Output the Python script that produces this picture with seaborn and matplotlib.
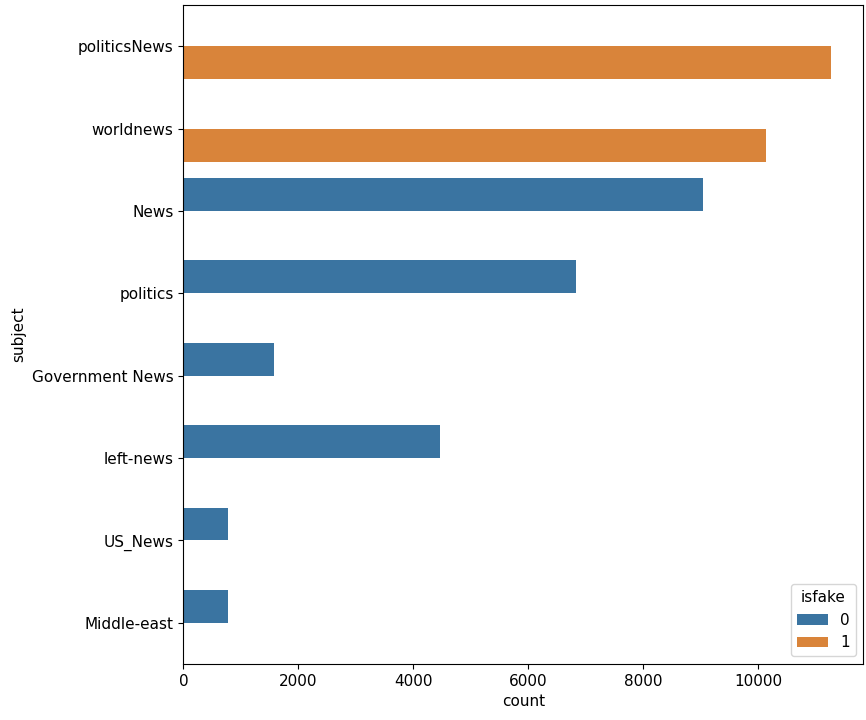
import matplotlib
matplotlib.use("Agg")
import matplotlib.pyplot as plt
import seaborn as sns
import pandas as pd

subjects = ["politicsNews", "worldnews", "News", "politics", "Government News",
            "left-news", "US_News", "Middle-east"]
counts = [11272, 10145, 9050, 6841, 1570, 4459, 783, 778]
isfake = ["1", "1", "0", "0", "0", "0", "0", "0"]

df = pd.DataFrame({"subject": subjects, "count": counts, "isfake": isfake})

plt.rcParams["font.size"] = 11

fig = plt.figure(figsize=(8.66, 7.2), dpi=100)
ax = fig.add_axes([0.2117, 0.0778, 0.7853, 0.915])
sns.barplot(data=df, x="count", y="subject", hue="isfake", hue_order=["0", "1"],
            order=subjects, ax=ax, dodge=True, saturation=1,
            palette=["#3a74a1", "#d9843a"])
ax.legend(title="isfake", loc="lower right")
fig.savefig("out.png", dpi=100)
